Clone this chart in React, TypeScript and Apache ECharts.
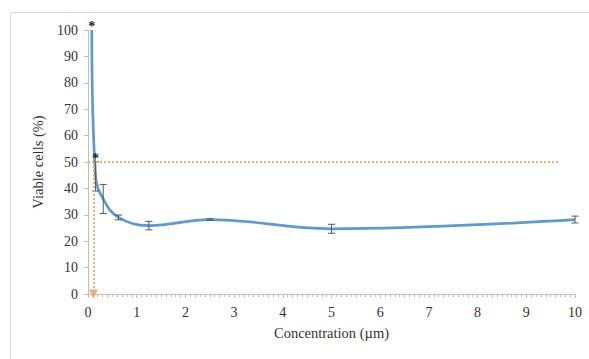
import React, { useEffect, useRef } from "react";
import * as echarts from "echarts";

const concentrations = [0.078, 0.156, 0.3125, 0.625, 1.25, 2.5, 5, 10];
const viability = [100, 44.5, 36, 29, 25.9, 28.2, 24.7, 28.2];
const errors = [0, 5.5, 5.5, 0.9, 1.6, 0.3, 1.7, 1.3];
const starPoints: [number, number][] = [
  [0.078, 102.7],
  [0.156, 53],
];
const ic50 = 0.11;
const halfLine = 50;
const halfLineEnd = 9.67;
const xTicks = [0, 1, 2, 3, 4, 5, 6, 7, 8, 9, 10];
const yTicks = [0, 10, 20, 30, 40, 50, 60, 70, 80, 90, 100];

const FONT = "Liberation Serif";
const TEXT = "#333333";
const AXIS = "#bfbfbf";

export default function App() {
  const ref = useRef<HTMLDivElement>(null);
  useEffect(() => {
    if (!ref.current) return;
    const chart = echarts.init(ref.current, undefined, { renderer: "svg" });
    const lineData = concentrations.map((c, i) => [c, viability[i]]);
    const errData = concentrations
      .map((c, i) => [c, viability[i] - errors[i], viability[i] + errors[i]])
      .filter((d) => d[2] - d[1] > 0);
    chart.setOption({
      animation: false,
      textStyle: { fontFamily: FONT },
      graphic: [
        {
          type: "rect",
          shape: { x: 10.5, y: 12.5, width: 700, height: 500 },
          style: { fill: "none", stroke: "#d9d9d9", lineWidth: 1 },
          silent: true,
          z: -10,
        },
      ],
      grid: { left: 88, right: 14, top: 30, bottom: 65 },
      xAxis: {
        type: "value",
        min: xTicks[0],
        max: xTicks[xTicks.length - 1],
        interval: 1,
        name: "Concentration (µm)",
        nameLocation: "middle",
        nameGap: 31,
        nameTextStyle: { fontFamily: FONT, fontSize: 14.5, color: TEXT },
        axisLine: { show: true, lineStyle: { color: AXIS, width: 1 } },
        axisTick: { show: true, length: 4, lineStyle: { color: AXIS } },
        minorTick: { show: true, splitNumber: 10, length: 3, lineStyle: { color: AXIS } },
        splitLine: { show: false },
        axisLabel: { fontFamily: FONT, fontSize: 14, color: TEXT, margin: 11 },
      },
      yAxis: {
        type: "value",
        min: yTicks[0],
        max: yTicks[yTicks.length - 1],
        interval: 10,
        name: "Viable cells (%)",
        nameLocation: "middle",
        nameGap: 43,
        nameRotate: 90,
        nameTextStyle: { fontFamily: FONT, fontSize: 14.5, color: TEXT },
        axisLine: { show: true, lineStyle: { color: AXIS, width: 1 } },
        axisTick: { show: true, length: 4, lineStyle: { color: AXIS } },
        splitLine: { show: false },
        axisLabel: { fontFamily: FONT, fontSize: 14, color: TEXT, margin: 10 },
      },
      series: [
        {
          type: "line",
          data: lineData,
          smooth: 0.4,
          showSymbol: false,
          symbol: "none",
          lineStyle: { color: "#5b9bd5", width: 2.7 },
          z: 3,
          markLine: {
            silent: true,
            animation: false,
            label: { show: false },
            lineStyle: { color: "#f4a460", type: [2, 2], width: 2, opacity: 0.9 },
            data: [
              [
                { coord: [0, halfLine], symbol: "none" },
                { coord: [halfLineEnd, halfLine], symbol: "none" },
              ],
              [
                { coord: [ic50, halfLine], symbol: "none" },
                { coord: [ic50, 0], symbol: "triangle", symbolSize: [9, 9] },
              ],
            ],
          },
        },
        {
          type: "custom",
          data: errData,
          z: 4,
          renderItem: (params: any, api: any) => {
            const x = api.value(0);
            const lo = api.coord([x, api.value(1)]);
            const hi = api.coord([x, api.value(2)]);
            const w = 3.5;
            const style = { stroke: "#595959", lineWidth: 1 };
            return {
              type: "group",
              children: [
                { type: "line", shape: { x1: lo[0], y1: lo[1], x2: hi[0], y2: hi[1] }, style },
                { type: "line", shape: { x1: lo[0] - w, y1: lo[1], x2: lo[0] + w, y2: lo[1] }, style },
                { type: "line", shape: { x1: hi[0] - w, y1: hi[1], x2: hi[0] + w, y2: hi[1] }, style },
              ],
            };
          },
        },
        {
          type: "custom",
          data: starPoints,
          z: 5,
          renderItem: (params: any, api: any) => {
            const p = api.coord([api.value(0), api.value(1)]);
            return {
              type: "text",
              x: p[0],
              y: p[1] + 4,
              style: {
                text: "*",
                fontFamily: FONT,
                fontSize: 14,
                fontWeight: "bold",
                fill: "#262626",
                align: "center",
                verticalAlign: "middle",
              },
            };
          },
        },
      ],
    });
    return () => chart.dispose();
  }, []);
  return (
    <div
      ref={ref}
      style={{ position: "fixed", left: 0, top: 0, width: 589, height: 359, background: "#fff" }}
    />
  );
}
